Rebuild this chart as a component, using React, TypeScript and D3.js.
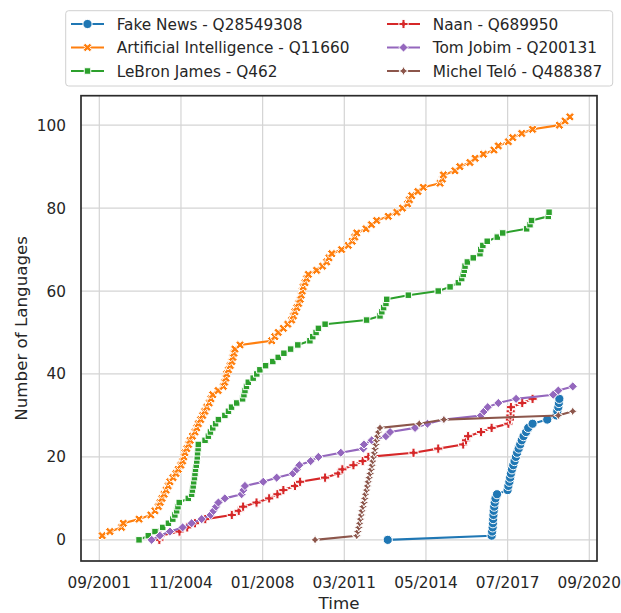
import React from 'react';
import * as d3 from 'd3';

// ---- data: [decimal year, number of languages] ----
const fakeNews: [number, number][] = [
  [2012.88, 0], [2016.91, 1], [2016.93, 2], [2016.95, 3], [2016.96, 4], [2016.97, 5], [2016.98, 6],
  [2016.99, 7], [2017.01, 8], [2017.03, 9], [2017.06, 10], [2017.12, 11], [2017.53, 12], [2017.56, 13],
  [2017.6, 14], [2017.63, 15], [2017.66, 16], [2017.7, 17], [2017.75, 18], [2017.8, 19], [2017.85, 20],
  [2017.9, 21], [2017.96, 22], [2018.02, 23], [2018.08, 24], [2018.15, 25], [2018.25, 26], [2018.33, 27],
  [2018.5, 28], [2019.07, 29], [2019.43, 30], [2019.46, 31], [2019.5, 32], [2019.52, 33], [2019.54, 34],
];

const artificialIntelligence: [number, number][] = [
  [2001.8, 1], [2002.1, 2], [2002.55, 3], [2002.62, 4], [2003.23, 5], [2003.69, 6], [2003.85, 7],
  [2003.98, 8], [2004.05, 9], [2004.12, 10], [2004.2, 11], [2004.28, 12], [2004.36, 13], [2004.43, 14],
  [2004.55, 15], [2004.66, 16], [2004.75, 17], [2004.85, 18], [2004.92, 19], [2004.97, 20], [2005.01, 21],
  [2005.08, 22], [2005.15, 23], [2005.21, 24], [2005.3, 25], [2005.4, 26], [2005.47, 27], [2005.53, 28],
  [2005.62, 29], [2005.7, 30], [2005.78, 31], [2005.86, 32], [2005.95, 33], [2006.02, 34], [2006.09, 35],
  [2006.3, 36], [2006.5, 37], [2006.55, 38], [2006.6, 39], [2006.63, 40], [2006.7, 41], [2006.77, 42],
  [2006.83, 43], [2006.87, 44], [2006.91, 45], [2006.95, 46], [2007.15, 47], [2008.38, 48], [2008.5, 49],
  [2008.63, 50], [2008.83, 51], [2009.0, 52], [2009.15, 53], [2009.22, 54], [2009.28, 55], [2009.35, 56],
  [2009.42, 57], [2009.48, 58], [2009.52, 59], [2009.56, 60], [2009.6, 61], [2009.67, 62], [2009.73, 63],
  [2009.8, 64], [2010.12, 65], [2010.35, 66], [2010.51, 67], [2010.6, 68], [2010.71, 69], [2011.09, 70],
  [2011.35, 71], [2011.5, 72], [2011.6, 73], [2011.68, 74], [2012.04, 75], [2012.25, 76], [2012.45, 77],
  [2012.9, 78], [2013.23, 79], [2013.45, 80], [2013.65, 81], [2013.72, 82], [2013.81, 83], [2014.05, 84],
  [2014.26, 85], [2014.91, 86], [2015.0, 87], [2015.04, 88], [2015.49, 89], [2015.68, 90], [2016.07, 91],
  [2016.27, 92], [2016.59, 93], [2017.0, 94], [2017.17, 95], [2017.56, 96], [2017.73, 97], [2018.08, 98],
  [2018.5, 99], [2019.54, 100], [2019.76, 101], [2019.95, 102],
];

const lebronJames: [number, number][] = [
  [2003.23, 0], [2003.59, 1], [2003.85, 2], [2004.15, 3], [2004.37, 4], [2004.54, 5], [2004.62, 6],
  [2004.69, 7], [2004.74, 8], [2004.79, 9], [2005.14, 10], [2005.27, 11], [2005.3, 12], [2005.33, 13],
  [2005.35, 14], [2005.38, 15], [2005.4, 16], [2005.42, 17], [2005.45, 18], [2005.47, 19], [2005.49, 20],
  [2005.5, 21], [2005.52, 22], [2005.53, 23], [2005.79, 24], [2005.92, 25], [2006.0, 26], [2006.09, 27],
  [2006.2, 28], [2006.31, 29], [2006.56, 30], [2006.7, 31], [2006.82, 32], [2007.02, 33], [2007.25, 34],
  [2007.3, 35], [2007.34, 36], [2007.4, 37], [2007.47, 38], [2007.66, 39], [2007.8, 40], [2007.92, 41],
  [2008.14, 42], [2008.42, 43], [2008.63, 44], [2008.85, 45], [2009.11, 46], [2009.39, 47], [2009.86, 48],
  [2009.97, 49], [2010.1, 50], [2010.19, 51], [2010.45, 52], [2012.06, 53], [2012.58, 54], [2012.65, 55],
  [2012.72, 56], [2012.81, 57], [2012.84, 58], [2013.68, 59], [2014.84, 60], [2015.3, 61], [2015.62, 62],
  [2015.75, 63], [2015.81, 64], [2015.85, 65], [2015.88, 66], [2015.97, 67], [2016.2, 68], [2016.46, 69],
  [2016.49, 70], [2016.57, 71], [2016.74, 72], [2017.13, 73], [2017.34, 74], [2018.27, 75], [2018.4, 76],
  [2018.46, 77], [2019.11, 78], [2019.14, 79],
];

const naan: [number, number][] = [
  [2004.02, 0], [2004.06, 1], [2004.8, 2], [2005.1, 3], [2005.4, 4], [2005.8, 5], [2006.83, 6],
  [2007.1, 7], [2007.27, 8], [2007.79, 9], [2008.28, 10], [2008.6, 11], [2008.83, 12], [2009.28, 13],
  [2009.48, 14], [2010.45, 15], [2010.96, 16], [2011.12, 17], [2011.55, 18], [2011.91, 19], [2012.13, 20],
  [2013.88, 21], [2014.84, 22], [2015.81, 23], [2015.92, 24], [2016.0, 25], [2016.5, 26], [2016.91, 27],
  [2017.56, 28], [2017.62, 29], [2017.64, 30], [2017.65, 31], [2017.66, 32], [2018.1, 33], [2018.5, 34],
];

const tomJobim: [number, number][] = [
  [2003.72, 0], [2004.04, 1], [2004.43, 2], [2004.92, 3], [2005.27, 4], [2005.66, 5], [2006.01, 6],
  [2006.12, 7], [2006.22, 8], [2006.31, 9], [2006.56, 10], [2007.21, 11], [2007.28, 12], [2007.34, 13],
  [2008.05, 14], [2008.57, 15], [2009.2, 16], [2009.35, 17], [2009.45, 18], [2009.89, 19], [2010.19, 20],
  [2011.06, 21], [2011.93, 22], [2011.96, 23], [2012.26, 24], [2012.81, 25], [2012.97, 26], [2013.94, 27],
  [2014.42, 28], [2015.06, 29], [2016.5, 30], [2016.62, 31], [2016.76, 32], [2017.17, 33], [2017.86, 34],
  [2019.3, 35], [2019.5, 36], [2020.06, 37],
];

const michelTelo: [number, number][] = [
  [2010.06, 0], [2011.68, 1], [2011.72, 2], [2011.76, 3], [2011.79, 4], [2011.82, 5], [2011.85, 6],
  [2011.88, 7], [2011.92, 8], [2011.96, 9], [2011.99, 10], [2012.02, 11], [2012.06, 12], [2012.09, 13],
  [2012.12, 14], [2012.16, 15], [2012.2, 16], [2012.24, 17], [2012.27, 18], [2012.3, 19], [2012.33, 20],
  [2012.36, 21], [2012.39, 22], [2012.42, 23], [2012.45, 24], [2012.48, 25], [2012.52, 26], [2012.58, 27],
  [2014.1, 28], [2015.06, 29], [2019.5, 30], [2020.06, 31],
];

const seriesLabels = [
  'Fake News - Q28549308',
  'Artificial Intelligence - Q11660',
  'LeBron James - Q462',
  'Naan - Q689950',
  'Tom Jobim - Q200131',
  'Michel Teló - Q488387',
];
const seriesColors = ['#1f77b4', '#ff7f0e', '#2ca02c', '#d62728', '#9467bd', '#8c564b'];
const seriesMarkers = ['circle', 'x', 'square', 'plus', 'diamond', 'star'];
const seriesData = [fakeNews, artificialIntelligence, lebronJames, naan, tomJobim, michelTelo];

// x ticks are epoch seconds
const xTickValues = [1.0e9, 1.1e9, 1.2e9, 1.3e9, 1.4e9, 1.5e9, 1.6e9];
const yTickValues = [0, 20, 40, 60, 80, 100];

// ---- helpers ----
function yearToSeconds(y: number): number {
  const Y = Math.floor(y);
  const a = Date.UTC(Y, 0, 1);
  const b = Date.UTC(Y + 1, 0, 1);
  return (a + (y - Y) * (b - a)) / 1000;
}

function polyPath(pts: [number, number][]): string {
  return 'M' + pts.map((p) => `${p[0].toFixed(2)},${p[1].toFixed(2)}`).join('L') + 'Z';
}

function markerPath(kind: string, s: number): string {
  const h = s / 2;
  if (kind === 'circle') {
    return `M${h},0A${h},${h} 0 1,1 ${-h},0A${h},${h} 0 1,1 ${h},0Z`;
  }
  if (kind === 'plus' || kind === 'x') {
    const base: [number, number][] = [
      [-1, -3], [1, -3], [1, -1], [3, -1], [3, 1], [1, 1], [1, 3], [-1, 3], [-1, 1], [-3, 1], [-3, -1], [-1, -1],
    ].map(([a, b]) => [(a * s) / 6, (b * s) / 6] as [number, number]);
    if (kind === 'plus') return polyPath(base);
    const c = Math.SQRT1_2;
    return polyPath(base.map(([a, b]) => [a * c - b * c, a * c + b * c] as [number, number]));
  }
  if (kind === 'square') {
    const a = h * Math.SQRT1_2;
    return polyPath([[-a, -a], [a, -a], [a, a], [-a, a]]);
  }
  if (kind === 'diamond') {
    return polyPath([[0, -h], [h, 0], [0, h], [-h, 0]]);
  }
  // 4-point star
  const pts: [number, number][] = [];
  for (let i = 0; i < 8; i++) {
    const r = i % 2 === 0 ? h : h / 2;
    const ang = -Math.PI / 2 + (i * Math.PI) / 4;
    pts.push([r * Math.cos(ang), r * Math.sin(ang)]);
  }
  return polyPath(pts);
}

const W = 621;
const H = 613;
const L = 81;
const R = 597;
const T = 95.7;
const B = 561;
const FONT = "'DejaVu Sans', 'Liberation Sans', sans-serif";
const TXT = '#262626';
const MS = 9.2;

export default function App() {
  const x = d3.scaleLinear().domain([0.97759e9, 1.60943e9]).range([L, R]);
  const y = d3.scaleLinear().domain([-5.1, 107.1]).range([B, T]);
  const fmt = d3.utcFormat('%m/%Y');
  const line = d3
    .line<[number, number]>()
    .x((d) => x(yearToSeconds(d[0])))
    .y((d) => y(d[1]));

  const legendRows = 3;
  return (
    <svg
      width={W}
      height={H}
      viewBox={`0 0 ${W} ${H}`}
      style={{ position: 'absolute', left: 0, top: 0, background: '#fff' }}
      fontFamily={FONT}
    >
      <rect x={0} y={0} width={W} height={H} fill="#fff" />
      {/* grid */}
      <g stroke="#d4d4d4" strokeWidth={1.2}>
        {xTickValues.map((t) => (
          <line key={'gx' + t} x1={x(t)} x2={x(t)} y1={T} y2={B} />
        ))}
        {yTickValues.map((v) => (
          <line key={'gy' + v} x1={L} x2={R} y1={y(v)} y2={y(v)} />
        ))}
      </g>
      <defs>
        <clipPath id="plotclip">
          <rect x={L} y={T} width={R - L} height={B - T} />
        </clipPath>
      </defs>
      {/* series */}
      <g clipPath="url(#plotclip)">
        {seriesData.map((data, i) => (
          <g key={'s' + i}>
            <path d={line(data) || ''} fill="none" stroke={seriesColors[i]} strokeWidth={2.1} strokeLinejoin="round" />
            {data.map((d, j) => (
              <path
                key={j}
                d={markerPath(seriesMarkers[i], MS)}
                transform={`translate(${x(yearToSeconds(d[0]))},${y(d[1])})`}
                fill={seriesColors[i]}
                stroke="#fff"
                strokeWidth={1}
              />
            ))}
          </g>
        ))}
      </g>
      {/* frame */}
      <rect x={L} y={T} width={R - L} height={B - T} fill="none" stroke="#2b2b2b" strokeWidth={1.7} />
      {/* x tick labels */}
      <g fill={TXT} fontSize={15.3} textAnchor="middle">
        {xTickValues.map((t) => (
          <text key={'xl' + t} x={x(t)} y={588}>
            {fmt(new Date(t * 1000))}
          </text>
        ))}
      </g>
      {/* y tick labels */}
      <g fill={TXT} fontSize={15.3} textAnchor="end">
        {yTickValues.map((v) => (
          <text key={'yl' + v} x={66} y={y(v) + 5.5}>
            {v}
          </text>
        ))}
      </g>
      {/* axis labels */}
      <text x={(L + R) / 2} y={609} textAnchor="middle" fontSize={16.7} fill={TXT}>
        Time
      </text>
      <text
        transform={`translate(26.5,${(T + B) / 2}) rotate(-90)`}
        textAnchor="middle"
        fontSize={16.7}
        fill={TXT}
      >
        Number of Languages
      </text>
      {/* legend */}
      <rect x={65.7} y={10.7} width={612.7 - 65.7} height={86 - 10.7} rx={3} fill="#fff" stroke="#d0d0d0" strokeWidth={1} />
      {seriesLabels.map((lab, i) => {
        const col = Math.floor(i / legendRows);
        const row = i % legendRows;
        const x0 = 71 + col * 316;
        const yc = 24 + row * 23.5;
        return (
          <g key={'lg' + i}>
            <line x1={x0} x2={x0 + 33} y1={yc} y2={yc} stroke={seriesColors[i]} strokeWidth={2.1} />
            <path
              d={markerPath(seriesMarkers[i], MS)}
              transform={`translate(${x0 + 16.5},${yc})`}
              fill={seriesColors[i]}
              stroke="#fff"
              strokeWidth={1}
            />
            <text x={x0 + 45.7} y={yc + 5.8} fontSize={15.3} fill={TXT}>
              {lab}
            </text>
          </g>
        );
      })}
    </svg>
  );
}
